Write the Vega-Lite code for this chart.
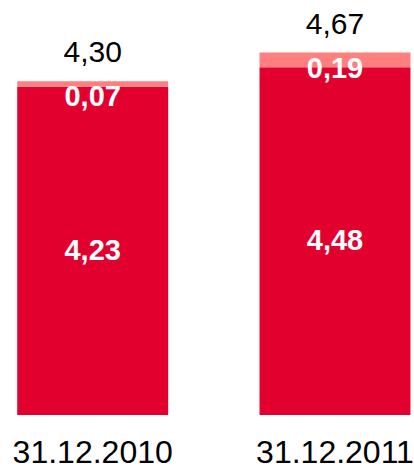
{
  "$schema": "https://vega.github.io/schema/vega-lite/v6.json",
  "width": 414,
  "height": 415,
  "padding": 0,
  "autosize": {"type": "pad"},
  "config": {
    "view": {"stroke": null},
    "font": "Liberation Sans",
    "locale": {"number": {"decimal": ",", "thousands": ".", "grouping": [3], "currency": ["", " €"]}}
  },
  "data": {
    "values": [
      {"date": "31.12.2010", "part": "a", "value": 4.23},
      {"date": "31.12.2010", "part": "b", "value": 0.07},
      {"date": "31.12.2011", "part": "a", "value": 4.48},
      {"date": "31.12.2011", "part": "b", "value": 0.19}
    ]
  },
  "encoding": {
    "x": {
      "field": "date", "type": "nominal",
      "scale": {"paddingInner": 0.377, "paddingOuter": 0.0428, "align": 0.83},
      "axis": {"title": null, "labelAngle": 0, "labelFontSize": 32, "labelColor": "#000000", "labelFont": "Liberation Sans", "labelBaseline": "alphabetic", "labelPadding": 47, "ticks": false, "tickSize": 0, "domain": false, "grid": false}
    }
  },
  "layer": [
    {
      "mark": {"type": "bar"},
      "encoding": {
        "y": {"field": "value", "type": "quantitative", "stack": "zero", "scale": {"domain": [0, 5.348], "nice": false, "zero": true}, "axis": null},
        "color": {"field": "part", "type": "nominal", "scale": {"domain": ["a", "b"], "range": ["#E2002F", "#FF7F7F"]}, "legend": null},
        "order": {"field": "part", "sort": "ascending"}
      }
    },
    {
      "transform": [
        {"filter": "datum.part === 'a'"},
        {"calculate": "datum.value / 2", "as": "mid"}
      ],
      "mark": {"type": "text", "color": "#FFFFFF", "fontWeight": "bold", "fontSize": 29, "baseline": "middle"},
      "encoding": {
        "y": {"field": "mid", "type": "quantitative"},
        "text": {"field": "value", "type": "quantitative", "format": ".2f"}
      }
    },
    {
      "transform": [
        {"joinaggregate": [{"op": "sum", "field": "value", "as": "total"}], "groupby": ["date"]},
        {"filter": "datum.part === 'b'"}
      ],
      "mark": {"type": "text", "color": "#FFFFFF", "fontWeight": "bold", "fontSize": 29, "baseline": "alphabetic", "dy": 25},
      "encoding": {
        "y": {"field": "total", "type": "quantitative"},
        "text": {"field": "value", "type": "quantitative", "format": ".2f"}
      }
    },
    {
      "transform": [
        {"joinaggregate": [{"op": "sum", "field": "value", "as": "total"}], "groupby": ["date"]},
        {"filter": "datum.part === 'b'"}
      ],
      "mark": {"type": "text", "color": "#000000", "fontSize": 30, "baseline": "alphabetic", "dy": -19},
      "encoding": {
        "y": {"field": "total", "type": "quantitative"},
        "text": {"field": "total", "type": "quantitative", "format": ".2f"}
      }
    }
  ]
}
